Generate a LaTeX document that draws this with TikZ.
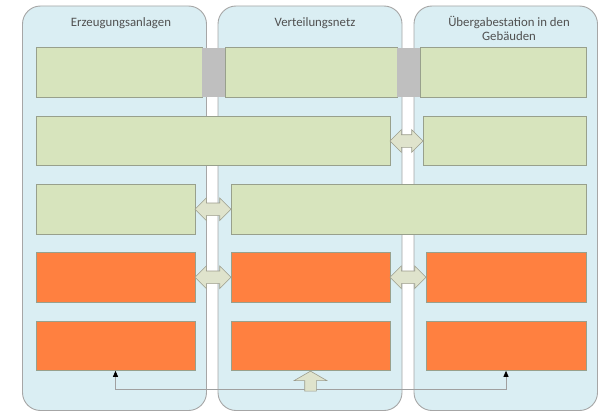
\documentclass[tikz,border=0pt]{standalone}
\usepackage{fontspec}
\setmainfont{Carlito}
\usetikzlibrary{shapes.arrows,arrows.meta,calc}
\definecolor{panelfill}{HTML}{DAEEF3}
\definecolor{panelline}{HTML}{A6A6A6}
\definecolor{titletext}{HTML}{505050}
\definecolor{boxgreen}{HTML}{D7E4BD}
\definecolor{boxorange}{HTML}{FF8040}
\definecolor{boxline}{HTML}{98A08C}
\definecolor{jointgray}{HTML}{BFBFBF}
\definecolor{arrowfill}{HTML}{DFE3CC}
\definecolor{arrowline}{HTML}{9C9C8C}
\definecolor{feedline}{HTML}{A0A0A0}

\begin{document}
\begin{tikzpicture}[x=1pt,y=-1pt,
  panel/.style={draw=panelline,fill=panelfill,line width=0.9pt,rounded corners=18pt},
  title/.style={text=titletext,font=\fontsize{12.8}{14}\selectfont,align=center,anchor=base,inner sep=0pt},
  box/.style={draw=boxline,line width=0.7pt,minimum height=49.5pt,inner sep=0pt},
  greenbox/.style={box,fill=boxgreen},
  orangebox/.style={box,fill=boxorange},
  joint/.style={fill=jointgray,minimum height=49.5pt,minimum width=23pt,inner sep=0pt},
  dblarrow/.style={double arrow,draw=arrowline,fill=arrowfill,line width=0.6pt,inner xsep=0pt,inner ysep=6pt,double arrow head extend=5pt},
  uparrow/.style={single arrow,draw=arrowline,fill=arrowfill,line width=0.6pt,minimum height=20pt,inner xsep=0pt,inner ysep=5.5pt,single arrow head extend=10.5pt,single arrow tip angle=120,rotate=90,anchor=tip},
  feed/.style={draw=feedline,line width=0.8pt,{Triangle[length=6pt,width=5pt,color=black]}-{Triangle[length=6pt,width=5pt,color=black]}}
]
\useasboundingbox (0,0) rectangle (605,412);
% panels
\foreach \xl/\xr in {22.5/206.5,218/402,414/597.5}
  \draw[panel] (\xl,6) rectangle (\xr,410.5);
\node[title] (t1) at (121,26.7) {Erzeugungsanlagen};
\node[title] (t2) at (315,26.7) {Verteilungsnetz};
\node[title] (t3) at (509,40.7) {Übergabestation in den\\Gebäuden};

% row 1
\node[greenbox,minimum width=166pt] (r1a) at (119,72.5) {};
\node[joint] (g1) at (213.5,72.5) {};
\node[greenbox,minimum width=172pt] (r1b) at (311,72.5) {};
\node[joint] (g2) at (408.5,72.5) {};
\node[greenbox,minimum width=166pt] (r1c) at (503,72.5) {};
% row 2
\node[greenbox,minimum width=354pt] (r2a) at (213,141) {};
\node[greenbox,minimum width=163pt] (r2b) at (504.5,141) {};
% row 3
\node[greenbox,minimum width=159pt] (r3a) at (115.5,209.3) {};
\node[greenbox,minimum width=355pt] (r3b) at (408.5,209.3) {};
% row 4
\node[orangebox,minimum width=159pt] (r4a) at (115.5,277.3) {};
\node[orangebox,minimum width=159pt] (r4b) at (310.5,277.3) {};
\node[orangebox,minimum width=160pt] (r4c) at (506,277.3) {};
% row 5
\node[orangebox,minimum width=159pt] (r5a) at (115.5,345.7) {};
\node[orangebox,minimum width=159pt] (r5b) at (310.5,345.7) {};
\node[orangebox,minimum width=160pt] (r5c) at (506,345.7) {};

% exchange arrows
\node[dblarrow,minimum height=33pt] (d2) at ($(r2a.east)!.5!(r2b.west)$) {};
\node[dblarrow,minimum height=36pt] (d3) at ($(r3a.east)!.5!(r3b.west)$) {};
\node[dblarrow,minimum height=36pt] (d4a) at ($(r4a.east)!.5!(r4b.west)$) {};
\node[dblarrow,minimum height=36pt] (d4b) at ($(r4b.east)!.5!(r4c.west)$) {};

% feed line
\draw[feed] (r5a.south) -- ++(0,19) -| (r5c.south);
\node[uparrow] (up) at (r5b.south) {};
\end{tikzpicture}
\end{document}
